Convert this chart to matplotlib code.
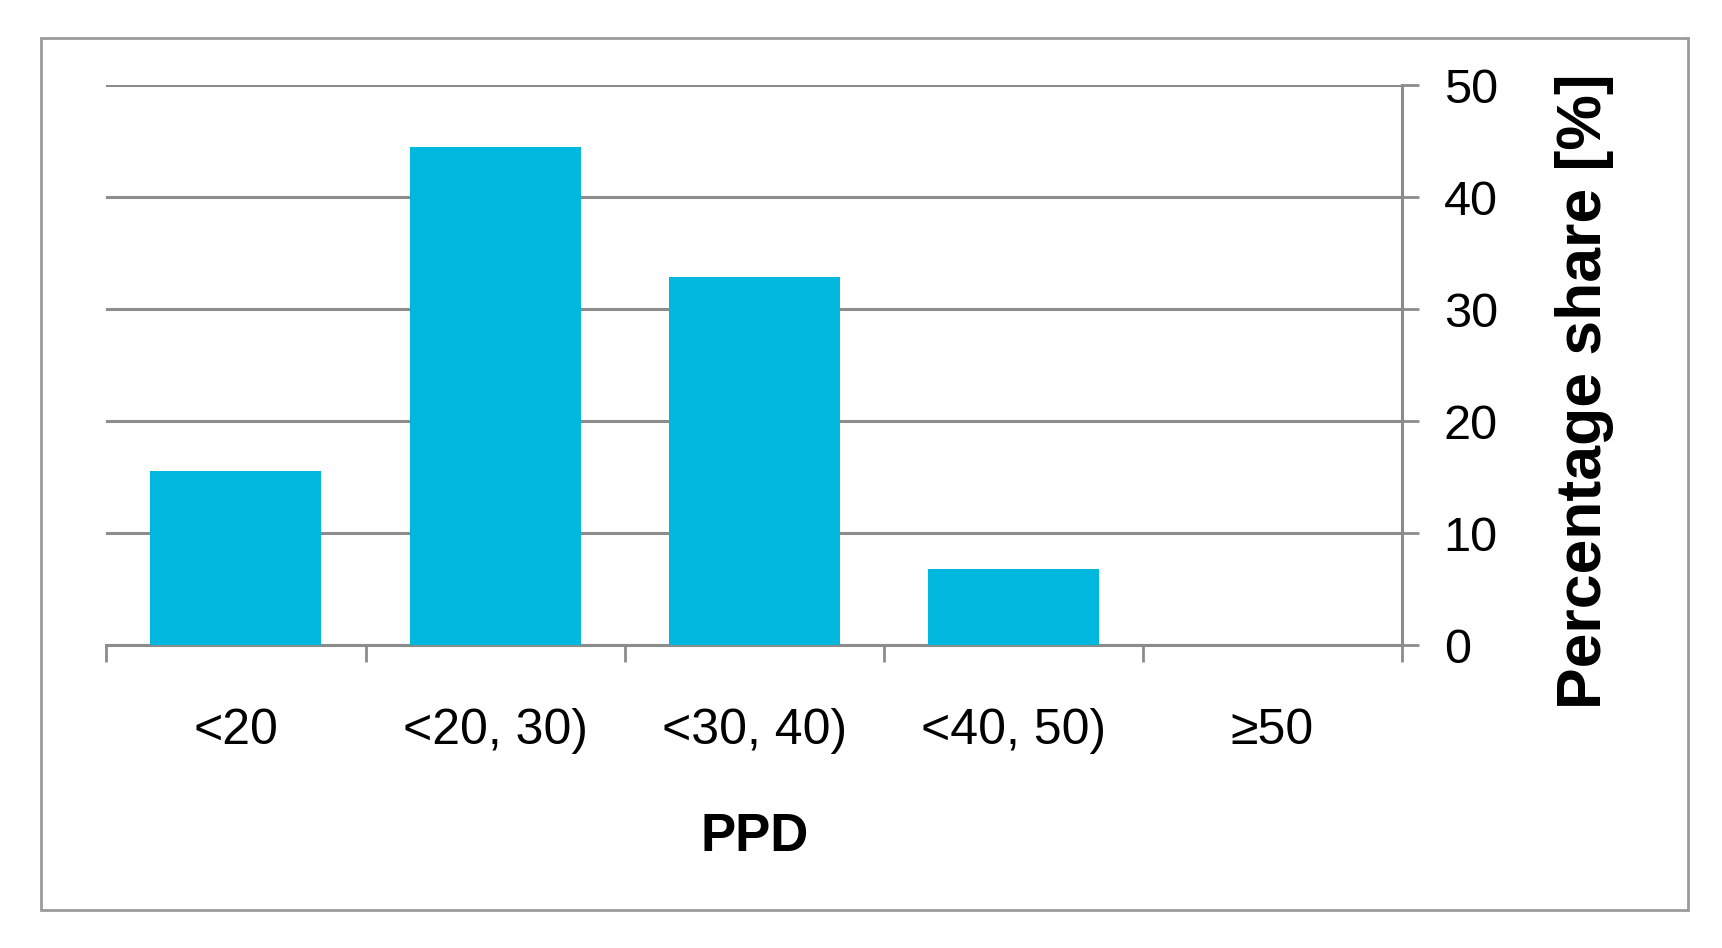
import numpy as np
import matplotlib
matplotlib.use("Agg")
import matplotlib.pyplot as plt
from matplotlib.patches import Rectangle

# data
categories = ["<20", "<20, 30)", "<30, 40)", "<40, 50)", "\u226550"]
shares = [15.5, 44.5, 32.9, 6.8, 0.0]
y_ticks = [0, 10, 20, 30, 40, 50]

bar_color = "#00B8DD"
grid_color = "#8C8C8C"

plt.rcParams["font.family"] = ["Liberation Sans", "DejaVu Sans"]

fig = plt.figure(figsize=(17.22, 9.48), dpi=100)
ax = fig.add_axes([0.0618, 0.3196, 0.7524, 0.5907])

x = np.arange(len(categories))
ax.bar(x, shares, width=0.66, color=bar_color, zorder=3)

ax.set_xlim(-0.5, len(categories) - 0.5)
ax.set_ylim(0, 50)

# y axis on the right
ax.yaxis.tick_right()
ax.yaxis.set_label_position("right")
ax.set_yticks(y_ticks)
ax.tick_params(axis="y", direction="out", length=12, width=2, color=grid_color,
               labelsize=35, pad=18)
ax.grid(axis="y", color=grid_color, linewidth=2.2, zorder=1)

# category boundaries as x ticks
ax.set_xticks(np.arange(-0.5, len(categories), 1.0))
ax.set_xticklabels([])
ax.set_xticks(x, minor=True)
ax.set_xticklabels(categories, minor=True, fontsize=36)
ax.tick_params(axis="x", which="major", direction="out", length=12, width=2, color=grid_color)
ax.tick_params(axis="x", which="minor", length=0, pad=45)

for side in ["left", "top"]:
    ax.spines[side].set_visible(False)
for side in ["bottom", "right"]:
    ax.spines[side].set_color(grid_color)
    ax.spines[side].set_linewidth(2.2)

ax.set_ylabel("Percentage share [%]", fontsize=45, fontweight="bold")
ax.yaxis.set_label_coords(1.118, 0.453)
ax.set_xlabel("PPD", fontsize=38, fontweight="bold", labelpad=42)

# outer frame
fig.patches.append(Rectangle((0.0236, 0.040), 0.9566, 0.9195, transform=fig.transFigure,
                             fill=False, edgecolor="#9A9A9A", linewidth=2))

fig.savefig("out.png", dpi=100, facecolor="white")
